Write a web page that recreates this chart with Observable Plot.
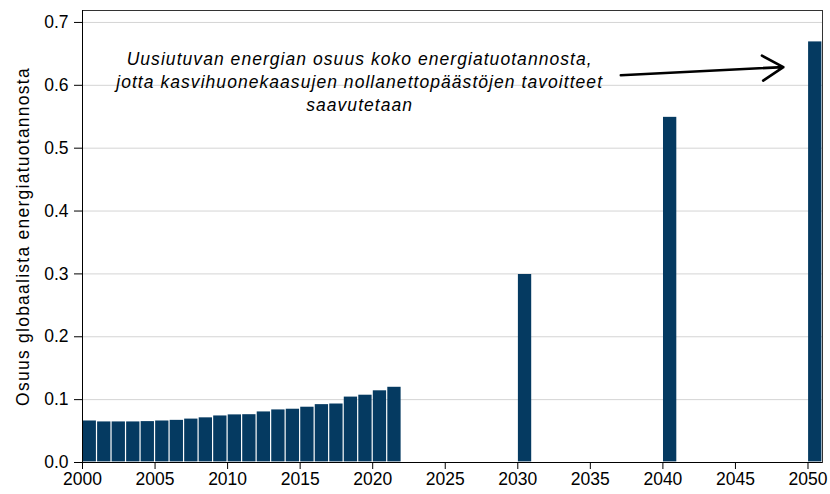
<!DOCTYPE html>
<html>
<head>
<meta charset="utf-8">
<script src="https://cdn.jsdelivr.net/npm/d3@7"></script>
<script src="https://cdn.jsdelivr.net/npm/@observablehq/plot@0.6"></script>
<style>
  html, body { margin: 0; padding: 0; background: #fff; }
</style>
</head>
<body>
<div id="chart"></div>
<script>
const histYears = [2000, 2001, 2002, 2003, 2004, 2005, 2006, 2007, 2008, 2009, 2010,
                   2011, 2012, 2013, 2014, 2015, 2016, 2017, 2018, 2019, 2020, 2021];
const histShare = [0.067, 0.0655, 0.0655, 0.0655, 0.066, 0.067, 0.068, 0.070, 0.072, 0.075, 0.0767,
                   0.077, 0.0814, 0.0846, 0.0857, 0.0889, 0.093, 0.094, 0.105, 0.108, 0.115, 0.1206];
const targetYears = [2030, 2040, 2050];
const targetShare = [0.30, 0.55, 0.67];
const xTicks = [2000, 2005, 2010, 2015, 2020, 2025, 2030, 2035, 2040, 2045, 2050];
const yTicks = [0, 0.1, 0.2, 0.3, 0.4, 0.5, 0.6, 0.7];
const yLabel = "Osuus globaalista energiatuotannosta";
const noteText = "Uusiutuvan energian osuus koko energiatuotannosta,\njotta kasvihuonekaasujen nollanettopäästöjen tavoitteet\nsaavutetaan";
const noteAt = [{x: 2019.1, y: 0.607}];
const arrowAt = [{x1: 2037.1, y1: 0.616, x2: 2048.3, y2: 0.629}];

const bars = histYears.map((year, i) => ({year, share: histShare[i]}))
  .concat(targetYears.map((year, i) => ({year, share: targetShare[i]})));

const chart = Plot.plot({
  width: 830,
  height: 494,
  marginLeft: 82,
  marginRight: 8,
  marginTop: 10,
  marginBottom: 32,
  style: {fontFamily: "'Liberation Sans', Arial, Helvetica, sans-serif", fontSize: "17px", color: "#000", background: "#fff"},
  x: {domain: [2000, 2051]},
  y: {domain: [0, 0.719]},
  marks: [
    Plot.gridY(yTicks, {stroke: "#d4d4d4", strokeOpacity: 1, strokeWidth: 1}),
    Plot.rectY(bars, {x: "year", y: "share", interval: 1, inset: 0.6, fill: "#053a61"}),
    Plot.frame({stroke: "#333", strokeWidth: 1}),
    Plot.axisX({ticks: xTicks, tickFormat: "d", tickSize: 7, tickPadding: 3, fontSize: 17.5, label: null}),
    Plot.axisY({ticks: yTicks, tickFormat: ".1f", tickSize: 8, tickPadding: 6, fontSize: 17.5,
                label: yLabel, labelAnchor: "center", labelArrow: "none", labelOffset: 66}),
    Plot.ruleY([0], {stroke: "#000"}),
    Plot.ruleX([2000], {stroke: "#000"}),
    Plot.text(noteAt, {x: "x", y: "y", text: () => noteText, fontStyle: "italic", fontSize: 17.5,
                       lineHeight: 1.32, textAnchor: "middle", fill: "#000"}),
    Plot.arrow(arrowAt, {x1: "x1", y1: "y1", x2: "x2", y2: "y2", stroke: "#000", strokeWidth: 2.6,
                         headLength: 14, headAngle: 62})
  ]
});
// widen the label and annotation text a little, as in the reference
d3.select(chart).selectAll("text").each(function() {
  const t = this.textContent;
  if (t === yLabel) d3.select(this).attr("letter-spacing", "1.25px");
  if (t.startsWith("Uusiutuvan")) d3.select(this).attr("letter-spacing", "1.05px");
});
document.getElementById("chart").appendChild(chart);
</script>
</body>
</html>
